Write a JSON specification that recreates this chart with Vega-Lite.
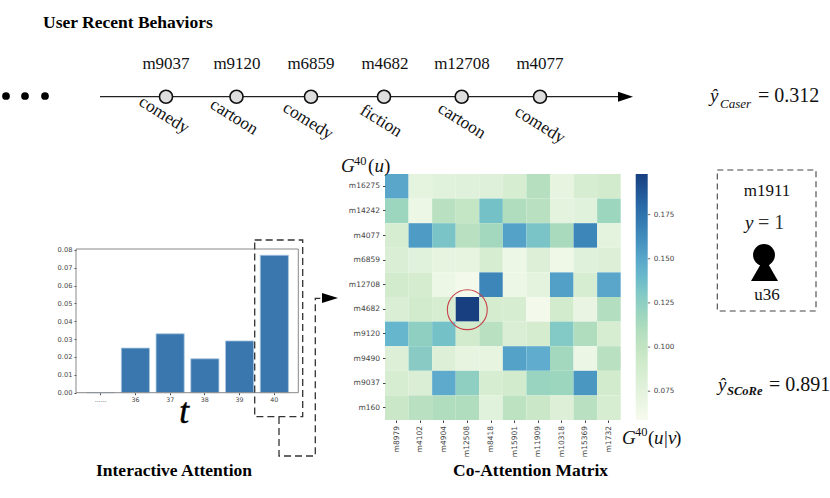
{
"width":830,"height":498,"padding":0,"autosize":{"type":"none"},
"background":"white",
"config":{"view":{"stroke":null},"text":{"font":"Liberation Serif","baseline":"alphabetic","color":"#111"}},
"datasets":{
"history":[{"t":35,"movie":"m9037","tag":"comedy"},{"t":36,"movie":"m9120","tag":"cartoon"},{"t":37,"movie":"m6859","tag":"comedy"},{"t":38,"movie":"m4682","tag":"fiction"},{"t":39,"movie":"m12708","tag":"cartoon"},{"t":40,"movie":"m4077","tag":"comedy"}],
"attention":[{"t":"......","a":0},{"t":"36","a":0.025},{"t":"37","a":0.033},{"t":"38","a":0.019},{"t":"39","a":0.029},{"t":"40","a":0.077}],
"matrix":[
{"u":"m16275","v":"m8979","g":0.150},{"u":"m16275","v":"m4102","g":0.073},{"u":"m16275","v":"m4904","g":0.077},{"u":"m16275","v":"m12508","g":0.078},{"u":"m16275","v":"m8418","g":0.079},{"u":"m16275","v":"m15901","g":0.085},{"u":"m16275","v":"m11909","g":0.107},{"u":"m16275","v":"m10318","g":0.072},{"u":"m16275","v":"m15369","g":0.085},{"u":"m16275","v":"m1732","g":0.090},
{"u":"m14242","v":"m8979","g":0.118},{"u":"m14242","v":"m4102","g":0.067},{"u":"m14242","v":"m4904","g":0.105},{"u":"m14242","v":"m12508","g":0.098},{"u":"m14242","v":"m8418","g":0.135},{"u":"m14242","v":"m15901","g":0.110},{"u":"m14242","v":"m11909","g":0.105},{"u":"m14242","v":"m10318","g":0.075},{"u":"m14242","v":"m15369","g":0.077},{"u":"m14242","v":"m1732","g":0.118},
{"u":"m4077","v":"m8979","g":0.085},{"u":"m4077","v":"m4102","g":0.155},{"u":"m4077","v":"m4904","g":0.133},{"u":"m4077","v":"m12508","g":0.105},{"u":"m4077","v":"m8418","g":0.115},{"u":"m4077","v":"m15901","g":0.152},{"u":"m4077","v":"m11909","g":0.133},{"u":"m4077","v":"m10318","g":0.113},{"u":"m4077","v":"m15369","g":0.165},{"u":"m4077","v":"m1732","g":0.075},
{"u":"m6859","v":"m8979","g":0.083},{"u":"m6859","v":"m4102","g":0.077},{"u":"m6859","v":"m4904","g":0.072},{"u":"m6859","v":"m12508","g":0.072},{"u":"m6859","v":"m8418","g":0.085},{"u":"m6859","v":"m15901","g":0.067},{"u":"m6859","v":"m11909","g":0.080},{"u":"m6859","v":"m10318","g":0.066},{"u":"m6859","v":"m15369","g":0.078},{"u":"m6859","v":"m1732","g":0.080},
{"u":"m12708","v":"m8979","g":0.090},{"u":"m12708","v":"m4102","g":0.087},{"u":"m12708","v":"m4904","g":0.067},{"u":"m12708","v":"m12508","g":0.062},{"u":"m12708","v":"m8418","g":0.165},{"u":"m12708","v":"m15901","g":0.067},{"u":"m12708","v":"m11909","g":0.075},{"u":"m12708","v":"m10318","g":0.153},{"u":"m12708","v":"m15369","g":0.085},{"u":"m12708","v":"m1732","g":0.150},
{"u":"m4682","v":"m8979","g":0.083},{"u":"m4682","v":"m4102","g":0.090},{"u":"m4682","v":"m4904","g":0.085},{"u":"m4682","v":"m12508","g":0.198},{"u":"m4682","v":"m8418","g":0.087},{"u":"m4682","v":"m15901","g":0.085},{"u":"m4682","v":"m11909","g":0.062},{"u":"m4682","v":"m10318","g":0.090},{"u":"m4682","v":"m15369","g":0.070},{"u":"m4682","v":"m1732","g":0.108},
{"u":"m9120","v":"m8979","g":0.142},{"u":"m9120","v":"m4102","g":0.125},{"u":"m9120","v":"m4904","g":0.135},{"u":"m9120","v":"m12508","g":0.090},{"u":"m9120","v":"m8418","g":0.105},{"u":"m9120","v":"m15901","g":0.083},{"u":"m9120","v":"m11909","g":0.087},{"u":"m9120","v":"m10318","g":0.130},{"u":"m9120","v":"m15369","g":0.110},{"u":"m9120","v":"m1732","g":0.085},
{"u":"m9490","v":"m8979","g":0.080},{"u":"m9490","v":"m4102","g":0.128},{"u":"m9490","v":"m4904","g":0.080},{"u":"m9490","v":"m12508","g":0.072},{"u":"m9490","v":"m8418","g":0.072},{"u":"m9490","v":"m15901","g":0.152},{"u":"m9490","v":"m11909","g":0.147},{"u":"m9490","v":"m10318","g":0.115},{"u":"m9490","v":"m15369","g":0.068},{"u":"m9490","v":"m1732","g":0.105},
{"u":"m9037","v":"m8979","g":0.085},{"u":"m9037","v":"m4102","g":0.083},{"u":"m9037","v":"m4904","g":0.148},{"u":"m9037","v":"m12508","g":0.125},{"u":"m9037","v":"m8418","g":0.085},{"u":"m9037","v":"m15901","g":0.090},{"u":"m9037","v":"m11909","g":0.120},{"u":"m9037","v":"m10318","g":0.118},{"u":"m9037","v":"m15369","g":0.157},{"u":"m9037","v":"m1732","g":0.090},
{"u":"m160","v":"m8979","g":0.095},{"u":"m160","v":"m4102","g":0.105},{"u":"m160","v":"m4904","g":0.110},{"u":"m160","v":"m12508","g":0.110},{"u":"m160","v":"m8418","g":0.077},{"u":"m160","v":"m15901","g":0.103},{"u":"m160","v":"m11909","g":0.095},{"u":"m160","v":"m10318","g":0.080},{"u":"m160","v":"m15369","g":0.105},{"u":"m160","v":"m1732","g":0.085}
]},
"resolve":{"scale":{"x":"independent","y":"independent"},"axis":{"x":"independent","y":"independent"}},
"layer":[
{"data":{"values":[{"i":0},{"i":1}]},"mark":{"type":"line","color":"#222","strokeWidth":1.3},
 "encoding":{"x":{"field":"i","type":"quantitative","axis":null,"scale":{"domain":[0,1],"range":[100,622]}},
 "y":{"datum":0,"axis":null,"scale":{"domain":[0,1],"range":[96.7,200]}}}},
{"data":{"values":[{"i":0}]},"mark":{"type":"point","filled":true,"color":"#000","opacity":1,"shape":"M-1,-0.67L1,0L-1,0.67Z","size":225},
 "encoding":{"x":{"datum":0,"axis":null,"scale":{"domain":[0,1],"range":[625.5,700]}},"y":{"datum":0,"axis":null,"scale":{"domain":[0,1],"range":[96.7,200]}}}},
{"data":{"values":[{"i":0},{"i":1},{"i":2}]},"mark":{"type":"point","filled":true,"color":"#000","opacity":1,"shape":"circle","size":60},
 "encoding":{"x":{"field":"i","type":"quantitative","axis":null,"scale":{"domain":[0,1,2],"range":[6,25,45]}},"y":{"datum":0,"axis":null,"scale":{"domain":[0,1],"range":[96,200]}}}},
{"data":{"name":"history"},"mark":{"type":"point","filled":true,"fill":"#dedede","stroke":"#111","strokeWidth":1.6,"opacity":1,"shape":"circle","size":170},
 "encoding":{"x":{"field":"t","type":"quantitative","axis":null,"scale":{"domain":[35,36,37,38,39,40],"range":[166,236.5,311,384,461.7,540]}},"y":{"datum":0,"axis":null,"scale":{"domain":[0,1],"range":[96.7,200]}}}},
{"data":{"name":"history"},"mark":{"type":"text","fontSize":17,"align":"center"},
 "encoding":{"text":{"field":"movie"},"x":{"field":"t","type":"quantitative","axis":null,"scale":{"domain":[35,36,37,38,39,40],"range":[166,237,311,385,462,540]}},"y":{"datum":0,"axis":null,"scale":{"domain":[0,1],"range":[69,100]}}}},
{"data":{"name":"history"},"mark":{"type":"text","fontSize":17.5,"align":"center","baseline":"middle","angle":32},
 "encoding":{"text":{"field":"tag"},"x":{"field":"t","type":"quantitative","axis":null,"scale":{"domain":[35,36,37,38,39,40],"range":[164,234,308,381,461.7,540]}},"y":{"field":"t","type":"quantitative","axis":null,"scale":{"domain":[35,36,37,38,39,40],"range":[115,117,121,121,121,125]}}}},
{"data":{"values":[{"i":0,"s":"User Recent Behaviors"},{"i":1,"s":"Interactive Attention"},{"i":2,"s":"Co-Attention Matrix"}]},"mark":{"type":"text","fontSize":17.5,"fontWeight":"bold","align":"left","color":"#000"},
 "encoding":{"text":{"field":"s"},"x":{"field":"i","type":"quantitative","axis":null,"scale":{"domain":[0,1,2],"range":[43,96,453]}},"y":{"field":"i","type":"quantitative","axis":null,"scale":{"domain":[0,1,2],"range":[28,475.7,475.7]}}}},

{"data":{"name":"attention"},"mark":{"type":"bar","color":"#3a77ae","stroke":"#a9c6df","strokeWidth":0.8},
 "encoding":{"x":{"field":"t","type":"nominal","sort":null,"scale":{"type":"band","domain":["......","36","37","38","39","40"],"range":[83.3,291.7],"paddingInner":0.19,"paddingOuter":0.095},
  "axis":{"orient":"bottom","offset":-105.3,"title":null,"domain":false,"labelAngle":0,"labelFont":"DejaVu Sans","labelFontSize":6.3,"labelColor":"#444","tickSize":2,"tickColor":"#444","labelPadding":2,"grid":false}},
 "y":{"field":"a","type":"quantitative","scale":{"domain":[0,0.0805],"range":[392.7,249]},
  "axis":{"orient":"left","offset":-76,"title":null,"domain":false,"values":[0,0.01,0.02,0.03,0.04,0.05,0.06,0.07,0.08],"format":".2f","labelFont":"DejaVu Sans","labelFontSize":6.7,"labelColor":"#444","tickSize":2,"tickColor":"#444","labelPadding":2,"grid":false}}}},
{"data":{"values":[{"i":0}]},"mark":{"type":"rect","filled":false,"stroke":"#888","strokeWidth":1},
 "encoding":{"x":{"datum":0,"axis":null,"scale":{"domain":[0,1],"range":[76,298.3]}},"x2":{"datum":1},"y":{"datum":0,"axis":null,"scale":{"domain":[0,1],"range":[392.7,249]}},"y2":{"datum":1}}},
{"data":{"values":[{"i":0}]},"mark":{"type":"text","text":"t","fontSize":35,"fontStyle":"italic","align":"center","color":"#000","stroke":"#000","strokeWidth":0.5},
 "encoding":{"x":{"datum":0,"axis":null,"scale":{"domain":[0,1],"range":[184,300]}},"y":{"datum":0,"axis":null,"scale":{"domain":[0,1],"range":[422.5,500]}}}},
{"data":{"values":[{"i":0}]},"mark":{"type":"rect","filled":false,"stroke":"#333","strokeWidth":1.3,"strokeDash":[7,4]},
 "encoding":{"x":{"datum":0,"axis":null,"scale":{"domain":[0,1],"range":[254.7,302.7]}},"x2":{"datum":1},"y":{"datum":0,"axis":null,"scale":{"domain":[0,1],"range":[416.7,240]}},"y2":{"datum":1}}},
{"data":{"values":[{"i":0},{"i":1},{"i":2},{"i":3},{"i":4}]},"mark":{"type":"line","color":"#333","strokeWidth":1.3,"strokeDash":[7,4]},
 "encoding":{"x":{"field":"i","type":"quantitative","axis":null,"scale":{"domain":[0,1,2,3,4],"range":[279,279,315.3,315.3,324]}},"y":{"field":"i","type":"quantitative","axis":null,"scale":{"domain":[0,1,2,3,4],"range":[417,456,456,298.3,298.3]}}}},
{"data":{"values":[{"i":0}]},"mark":{"type":"point","filled":true,"color":"#000","opacity":1,"shape":"M-1,-0.62L1,0L-1,0.62Z","size":256},
 "encoding":{"x":{"datum":0,"axis":null,"scale":{"domain":[0,1],"range":[330,400]}},"y":{"datum":0,"axis":null,"scale":{"domain":[0,1],"range":[298,400]}}}},

{"data":{"name":"matrix"},"mark":{"type":"rect"},
 "encoding":{"x":{"field":"v","type":"nominal","sort":null,"scale":{"type":"band","domain":["m8979","m4102","m4904","m12508","m8418","m15901","m11909","m10318","m15369","m1732"],"range":[385,620.7],"paddingInner":0,"paddingOuter":0},
  "axis":{"orient":"bottom","offset":-78,"title":null,"domain":false,"labelAngle":-90,"labelFont":"DejaVu Sans","labelFontSize":7.5,"labelColor":"#444","tickSize":2.5,"tickColor":"#444","labelPadding":3,"grid":false}},
 "y":{"field":"u","type":"nominal","sort":null,"scale":{"type":"band","domain":["m16275","m14242","m4077","m6859","m12708","m4682","m9120","m9490","m9037","m160"],"range":[174,420],"paddingInner":0,"paddingOuter":0},
  "axis":{"orient":"left","offset":-385,"title":null,"domain":false,"labelFont":"DejaVu Sans","labelFontSize":7.5,"labelColor":"#444","tickSize":2.5,"tickColor":"#444","labelPadding":3,"grid":false}},
 "color":{"field":"g","type":"quantitative","scale":{"domain":[0.0587,0.198],"range":["#f7fbef","#e1f2dc","#cde9c8","#aedcbd","#88cbc4","#62afcf","#3f8abb","#2a68a6","#183f80"]},
  "legend":{"orient":"none","legendX":635.7,"legendY":174,"padding":0,"title":null,"gradientLength":246,"gradientThickness":12,"values":[0.075,0.1,0.125,0.15,0.175],"format":".3f","labelFont":"DejaVu Sans","labelFontSize":7.2,"labelColor":"#444","labelOffset":6}}}},
{"data":{"values":[{"v":0.075},{"v":0.1},{"v":0.125},{"v":0.15},{"v":0.175}]},"mark":{"type":"rule","color":"#444","strokeWidth":0.8},
 "encoding":{"x":{"datum":0,"axis":null,"scale":{"domain":[0,1],"range":[647.7,650.2]}},"x2":{"datum":1},"y":{"field":"v","type":"quantitative","axis":null,"scale":{"domain":[0.0587,0.198],"range":[420,174]}}}},
{"data":{"values":[{"u":"m4682","v":"m12508"}]},"mark":{"type":"point","filled":false,"color":"#c8414b","strokeWidth":1.1,"opacity":1,"shape":"circle","size":1590},
 "encoding":{"x":{"field":"v","type":"nominal","axis":null,"scale":{"type":"point","padding":0,"domain":["m12508","_"],"range":[467.3,600]}},"y":{"field":"u","type":"nominal","axis":null,"scale":{"type":"point","padding":0,"domain":["m4682","_"],"range":[309.7,400]}}}},

{"data":{"values":[{"i":0,"s":"G"},{"i":1,"s":"u"},{"i":2,"s":"G"},{"i":3,"s":"u"},{"i":4,"s":"v"}]},"mark":{"type":"text","fontSize":19,"fontStyle":"italic","align":"left"},
 "encoding":{"text":{"field":"s"},"x":{"field":"i","type":"quantitative","axis":null,"scale":{"domain":[0,1,2,3,4],"range":[341,374.5,622,654,668]}},"y":{"field":"i","type":"quantitative","axis":null,"scale":{"domain":[0,1,2,3,4],"range":[172,172,444,444,444]}}}},
{"data":{"values":[{"i":0,"s":"40"},{"i":1,"s":"40"}]},"mark":{"type":"text","fontSize":12.5,"align":"left"},
 "encoding":{"text":{"field":"s"},"x":{"field":"i","type":"quantitative","axis":null,"scale":{"domain":[0,1],"range":[354,635]}},"y":{"field":"i","type":"quantitative","axis":null,"scale":{"domain":[0,1],"range":[165,436]}}}},
{"data":{"values":[{"i":0,"s":"("},{"i":1,"s":")"},{"i":2,"s":"("},{"i":3,"s":"|"},{"i":4,"s":")"}]},"mark":{"type":"text","fontSize":19,"align":"left"},
 "encoding":{"text":{"field":"s"},"x":{"field":"i","type":"quantitative","axis":null,"scale":{"domain":[0,1,2,3,4],"range":[368,384,648,664,675]}},"y":{"field":"i","type":"quantitative","axis":null,"scale":{"domain":[0,1,2,3,4],"range":[172,172,444,444,444]}}}},

{"data":{"values":[{"m":"Caser","hat":"ŷ","eq":"= 0.312"},{"m":"SCoRe","hat":"ŷ","eq":"= 0.891"}]},"mark":{"type":"text","fontSize":19,"fontStyle":"italic","align":"left"},
 "encoding":{"text":{"field":"hat"},"x":{"field":"m","type":"nominal","axis":null,"scale":{"type":"point","padding":0,"domain":["Caser","SCoRe"],"range":[710,718]}},"y":{"field":"m","type":"nominal","axis":null,"scale":{"type":"point","padding":0,"domain":["Caser","SCoRe"],"range":[102.3,391]}}}},
{"data":{"values":[{"m":"Caser","hat":"ŷ","eq":"= 0.312"},{"m":"SCoRe","hat":"ŷ","eq":"= 0.891"}]},"mark":{"type":"text","fontSize":20,"align":"left"},
 "encoding":{"text":{"field":"eq"},"x":{"field":"m","type":"nominal","axis":null,"scale":{"type":"point","padding":0,"domain":["Caser","SCoRe"],"range":[758,769]}},"y":{"field":"m","type":"nominal","axis":null,"scale":{"type":"point","padding":0,"domain":["Caser","SCoRe"],"range":[102.3,391]}}}},
{"data":{"values":[{"m":"Caser"}]},"mark":{"type":"text","fontSize":13,"fontStyle":"italic","align":"left"},
 "encoding":{"text":{"field":"m"},"x":{"field":"m","type":"nominal","axis":null,"scale":{"type":"point","padding":0,"domain":["Caser","_"],"range":[720,800]}},"y":{"field":"m","type":"nominal","axis":null,"scale":{"type":"point","padding":0,"domain":["Caser","_"],"range":[107.7,200]}}}},
{"data":{"values":[{"m":"SCoRe"}]},"mark":{"type":"text","fontSize":12.5,"fontStyle":"italic","fontWeight":"bold","align":"left"},
 "encoding":{"text":{"field":"m"},"x":{"field":"m","type":"nominal","axis":null,"scale":{"type":"point","padding":0,"domain":["SCoRe","_"],"range":[727,800]}},"y":{"field":"m","type":"nominal","axis":null,"scale":{"type":"point","padding":0,"domain":["SCoRe","_"],"range":[395,480]}}}},

{"data":{"values":[{"i":0}]},"mark":{"type":"rect","filled":false,"stroke":"#444","strokeWidth":1.1,"strokeDash":[6,4]},
 "encoding":{"x":{"datum":0,"axis":null,"scale":{"domain":[0,1],"range":[717.3,816]}},"x2":{"datum":1},"y":{"datum":0,"axis":null,"scale":{"domain":[0,1],"range":[311,170]}},"y2":{"datum":1}}},
{"data":{"values":[{"i":0,"s":"m1911"},{"i":1,"s":"u36"}]},"mark":{"type":"text","fontSize":17,"align":"center"},
 "encoding":{"text":{"field":"s"},"x":{"field":"i","type":"quantitative","axis":null,"scale":{"domain":[0,1],"range":[767,767]}},"y":{"field":"i","type":"quantitative","axis":null,"scale":{"domain":[0,1],"range":[196,300]}}}},
{"data":{"values":[{"s":"y"}]},"mark":{"type":"text","fontSize":19,"fontStyle":"italic","align":"left"},
 "encoding":{"text":{"field":"s"},"x":{"datum":0,"axis":null,"scale":{"domain":[0,1],"range":[745,800]}},"y":{"datum":0,"axis":null,"scale":{"domain":[0,1],"range":[229,300]}}}},
{"data":{"values":[{"s":"= 1"}]},"mark":{"type":"text","fontSize":20,"align":"left","color":"#333"},
 "encoding":{"text":{"field":"s"},"x":{"datum":0,"axis":null,"scale":{"domain":[0,1],"range":[758,800]}},"y":{"datum":0,"axis":null,"scale":{"domain":[0,1],"range":[229,300]}}}},
{"data":{"values":[{"user":"u36"}]},"mark":{"type":"point","filled":true,"color":"#000","opacity":1,"shape":"circle","size":480},
 "encoding":{"x":{"datum":0,"axis":null,"scale":{"domain":[0,1],"range":[764,800]}},"y":{"datum":0,"axis":null,"scale":{"domain":[0,1],"range":[255,300]}}}},
{"data":{"values":[{"user":"u36"}]},"mark":{"type":"point","filled":true,"color":"#000","opacity":1,"shape":"triangle-up","size":729},
 "encoding":{"x":{"datum":0,"axis":null,"scale":{"domain":[0,1],"range":[764.5,800]}},"y":{"datum":0,"axis":null,"scale":{"domain":[0,1],"range":[269.3,300]}}}}
]}
